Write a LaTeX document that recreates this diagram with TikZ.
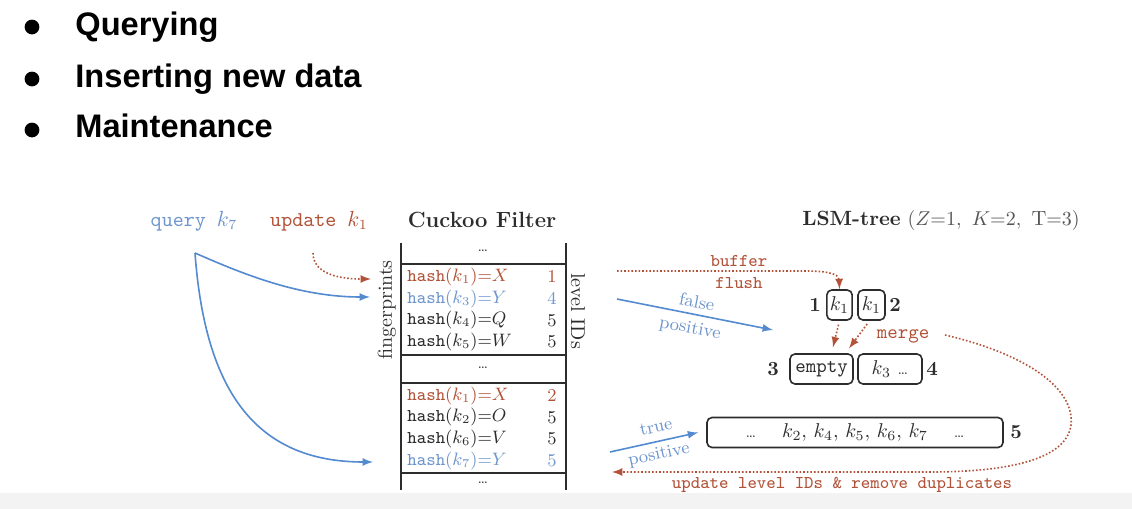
\documentclass[tikz,border=0pt]{standalone}
\usepackage{fontspec}
\usepackage{amsmath}
\usepackage{tikz}
\usetikzlibrary{arrows}
\newfontfamily\slidefont{Liberation Sans}
\definecolor{upd}{RGB}{178,82,56}
\definecolor{qry}{RGB}{84,138,208}
\definecolor{qrytxt}{RGB}{110,150,205}
\definecolor{txt}{RGB}{45,45,45}
\definecolor{param}{RGB}{85,85,85}
\definecolor{strip}{RGB}{243,243,243}
\tikzstyle{bulletdot}=[circle,fill=black,inner sep=0pt,minimum size=7.4pt]
\tikzstyle{slideitem}=[anchor=base west,inner sep=0pt,font=\slidefont\bfseries\fontsize{16.3}{19}\selectfont]
\tikzstyle{rowtxt}=[anchor=west,inner sep=0pt,font=\fontsize{9}{10}\selectfont]
\tikzstyle{idnum}=[anchor=east,inner sep=0pt,font=\fontsize{9}{10}\selectfont]
\tikzstyle{lsm}=[draw,txt,thick,rounded corners=2.5pt,minimum height=15pt,inner sep=1.5pt]
\tikzstyle{lvl}=[txt,font=\bfseries]
\tikzstyle{ttlabel}=[font=\ttfamily\fontsize{9}{10}\selectfont]
\tikzstyle{poslabel}=[qrytxt,inner sep=0pt,font=\fontsize{9}{10}\selectfont]
\tikzstyle{updarrow}=[upd,thick,densely dotted,-latex]
\tikzstyle{qryarrow}=[qry,thick,-latex]

\begin{document}
\begin{tikzpicture}[x=0.5pt,y=-0.5pt]
\useasboundingbox (0,0) rectangle (1132,509);
\fill[white] (0,0) rectangle (1132,509);
\fill[strip] (0,493) rectangle (1132,509);
% slide bullets
\node[bulletdot] (b1) at (32,27) {};
\node[bulletdot] (b2) at (32,79) {};
\node[bulletdot] (b3) at (32,130) {};
\node[slideitem] (i1) at (75,35) {Querying};
\node[slideitem] (i2) at (75,87) {Inserting new data};
\node[slideitem] (i3) at (75,137) {Maintenance};
% headers
\node[qrytxt,font=\ttfamily\fontsize{10.5}{12}\selectfont] (qk) at (194,221) {query $k_7$};
\node[upd,font=\ttfamily\fontsize{10.5}{12}\selectfont] (uk) at (319,221) {update $k_1$};
\node[txt,font=\bfseries\fontsize{11}{13}\selectfont] (cf) at (482,220) {Cuckoo Filter};
\node[txt,font=\fontsize{10.3}{12}\selectfont] (lt) at (941,220) {\textbf{LSM-tree} {\color{param}$(Z{=}1,\ K{=}2,\ \mathrm{T}{=}3)$}};
% cuckoo filter table
\draw[txt,thick] (401,243) -- (401,490);
\draw[txt,thick] (566,243) -- (566,490);
\draw[txt,thick] (401,264) -- (566,264);
\draw[txt,thick] (401,355) -- (566,355);
\draw[txt,thick] (401,383) -- (566,383);
\draw[txt,thick] (401,473) -- (566,473);
\node[txt,font=\scriptsize] (t0) at (483,251) {\dots};
\node[txt,font=\scriptsize] (t1) at (483,368) {\dots};
\node[txt,font=\scriptsize] (t2) at (483,483) {\dots};
\node[txt,rotate=90] (fp) at (387,310) {fingerprints};
\node[txt,rotate=-90] (li) at (578,311) {level IDs};
\node[rowtxt,upd] (r1) at (407,277) {\texttt{hash}$(k_1){=}X$};
\node[rowtxt,qrytxt] (r2) at (407,298.7) {\texttt{hash}$(k_3){=}Y$};
\node[rowtxt,txt] (r3) at (407,320.3) {\texttt{hash}$(k_4){=}Q$};
\node[rowtxt,txt] (r4) at (407,342) {\texttt{hash}$(k_5){=}W$};
\node[rowtxt,upd] (r5) at (407,395.5) {\texttt{hash}$(k_1){=}X$};
\node[rowtxt,txt] (r6) at (407,417.2) {\texttt{hash}$(k_2){=}O$};
\node[rowtxt,txt] (r7) at (407,438.8) {\texttt{hash}$(k_6){=}V$};
\node[rowtxt,qrytxt] (r8) at (407,460.5) {\texttt{hash}$(k_7){=}Y$};
\node[idnum,upd] (d1) at (557,277) {1};
\node[idnum,qrytxt] (d2) at (557,298.7) {4};
\node[idnum,txt] (d3) at (557,320.3) {5};
\node[idnum,txt] (d4) at (557,342) {5};
\node[idnum,upd] (d5) at (557,395.5) {2};
\node[idnum,txt] (d6) at (557,417.2) {5};
\node[idnum,txt] (d7) at (557,438.8) {5};
\node[idnum,qrytxt] (d8) at (557,460.5) {5};
% lsm-tree levels
\node[lsm,minimum width=12.5pt] (l1) at (839.5,305) {$k_1$};
\node[lsm,minimum width=13.5pt] (l2) at (871.5,305) {$k_1$};
\node[lsm,minimum width=31.5pt] (l3) at (821.5,369) {\texttt{empty}};
\node[lsm,minimum width=32pt] (l4) at (890,369) {$k_3$ {\scriptsize\dots}};
\node[lsm,minimum width=148pt] (l5) at (855,432.5) {{\scriptsize\dots}\hspace{13pt}$k_2,\,k_4,\,k_5,\,k_6,\,k_7$\hspace{13pt}{\scriptsize\dots}};
\node[lvl] (n1) at (815,305) {1};
\node[lvl] (n2) at (895,305) {2};
\node[lvl] (n3) at (773,369) {3};
\node[lvl] (n4) at (932,369) {4};
\node[lvl] (n5) at (1016,432) {5};
% labels on the arrows
\node[upd,ttlabel] (bf) at (739,261) {buffer};
\node[upd,ttlabel] (fl) at (739,283) {flush};
\node[upd,font=\ttfamily] (mg) at (903,336) {merge};
\node[upd,ttlabel] (ud) at (842,485) {update level IDs \& remove duplicates};
\node[poslabel,rotate=-11] (fa) at (697,302) {false};
\node[poslabel,rotate=-11] (fb) at (690,329) {positive};
\node[poslabel,rotate=12] (ta) at (656,427) {true};
\node[poslabel,rotate=12] (tb) at (659,455) {positive};
% arrow ends
\coordinate (qa) at (195,253);
\coordinate (ua) at (313,253);
\coordinate (e1) at (371,279);
\coordinate (e2) at (370,297);
\coordinate (e8) at (373,462);
\coordinate (bf0) at (617,271);
\coordinate (fp0) at (617,299);
\coordinate (fp1) at (773,330);
\coordinate (tp0) at (610,452);
\coordinate (mc0) at (945,335);
\coordinate (mc1) at (612,472);
% queries and updates
\draw[qryarrow] (qa) .. controls (245,275) and (300,297) .. (e2);
\draw[qryarrow] (qa) .. controls (205,390) and (255,462) .. (e8);
\draw[updarrow] (ua) .. controls (313,272) and (335,279) .. (e1);
\draw[updarrow] (bf0) -- (805,271) .. controls (832,271) and (839,275) .. (l1.north);
\draw[qryarrow] (fp0) -- (fp1);
\draw[qryarrow] (tp0) -- ([xshift=-4pt]l5.west);
\draw[updarrow,shorten <=2pt,shorten >=3pt] (l1.south) -- ([xshift=5pt]l3.north);
\draw[updarrow,shorten <=2pt,shorten >=3pt] ([xshift=-1pt]l2.south) -- ([xshift=12pt]l3.north);
\draw[updarrow] (mc0) .. controls (1030,355) and (1075,390) .. (1071,425) .. controls (1066,462) and (1000,472) .. (930,472) -- (mc1);
\end{tikzpicture}
\end{document}
